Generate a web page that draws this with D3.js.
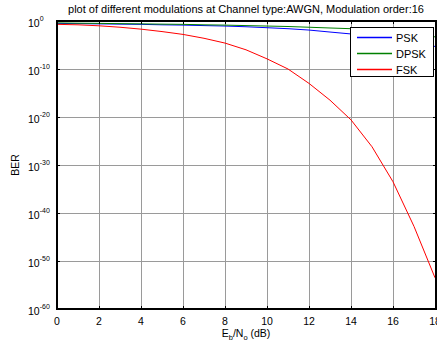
<!DOCTYPE html>
<html>
<head>
<meta charset="utf-8">
<script src="https://cdn.jsdelivr.net/npm/d3@7"></script>
<style>
  body { margin: 0; background: #fff; }
  svg { display: block; font-family: "Liberation Sans", Arial, sans-serif; }
</style>
</head>
<body>
<div id="chart"></div>
<script>
// Eb/No in dB
const ebno = [0, 1, 2, 3, 4, 5, 6, 7, 8, 9, 10, 11, 12, 13, 14, 15, 16, 17, 18];

// BER
const berPSK = [3.2e-1, 2.8e-1, 2.5e-1, 2.2e-1, 2.0e-1, 1.6e-1, 1.4e-1, 1.1e-1, 8.9e-2, 6.3e-2,
  4.0e-2, 2.5e-2, 1.3e-2, 5.0e-3, 2.0e-3, 6.3e-4, 1.6e-4, 3.2e-5, 5.0e-6];
const berDPSK = [4.0e-1, 3.5e-1, 3.2e-1, 2.8e-1, 2.5e-1, 2.2e-1, 2.0e-1, 1.6e-1, 1.4e-1, 1.1e-1,
  8.9e-2, 7.1e-2, 5.0e-2, 3.5e-2, 2.5e-2, 1.3e-2, 5.0e-3, 1.8e-3, 5.0e-4];
const berFSK = [2.0e-1, 1.6e-1, 1.0e-1, 5.0e-2, 2.0e-2, 6.3e-3, 1.6e-3, 2.5e-4, 2.5e-5, 1.0e-6,
  1.3e-8, 1.0e-10, 1.0e-13, 3.2e-17, 2.5e-21, 6.3e-27, 3.2e-34, 1.6e-43, 3.2e-54];

const seriesNames = ['PSK', 'DPSK', 'FSK'];
const seriesColors = ['#0000ff', '#008000', '#ff0000'];
const seriesData = [berPSK, berDPSK, berFSK];

const xTicks = [0, 2, 4, 6, 8, 10, 12, 14, 16, 18];
const yExponents = [0, -10, -20, -30, -40, -50, -60];

const title = 'plot of different modulations at Channel type:AWGN, Modulation order:16';

const W = 437, H = 343;
const margin = { top: 21, right: 2, bottom: 34, left: 57 };

const svg = d3.select('#chart').append('svg')
  .attr('width', W)
  .attr('height', H);

const x = d3.scaleLinear().domain([0, 18]).range([margin.left, 435]);
const y = d3.scaleLog().domain([1e-60, 1]).range([309, margin.top]);

const x0 = x.range()[0], x1 = 436;
const y0 = y.range()[0], y1 = y.range()[1];

// grid
const grid = svg.append('g').attr('stroke', '#9a9a9a').attr('stroke-width', 1);
grid.selectAll('line.vx')
  .data(xTicks.slice(1))
  .enter()
  .append('line')
  .attr('x1', (d) => Math.round(x(d)) + 0.5)
  .attr('x2', (d) => Math.round(x(d)) + 0.5)
  .attr('y1', y1)
  .attr('y2', y0);
grid.selectAll('line.hy')
  .data(yExponents.slice(1, -1))
  .enter()
  .append('line')
  .attr('x1', x0)
  .attr('x2', x1)
  .attr('y1', (d) => Math.round(y(Math.pow(10, d))) + 0.5)
  .attr('y2', (d) => Math.round(y(Math.pow(10, d))) + 0.5);

// curves
const lineGen = d3.line()
  .x((d, i) => x(ebno[i]))
  .y((d) => y(d));

svg.append('clipPath').attr('id', 'clip')
  .append('rect')
  .attr('x', x0).attr('y', y1)
  .attr('width', x1 - x0).attr('height', y0 - y1);

svg.append('g')
  .attr('clip-path', 'url(#clip)')
  .selectAll('path')
  .data(seriesData)
  .enter()
  .append('path')
  .attr('fill', 'none')
  .style('stroke', (d, i) => seriesColors[i])
  .attr('stroke-width', 1)
  .attr('d', lineGen);

// box
const box = svg.append('g').attr('stroke', '#000').attr('stroke-width', 2);
box.append('line').attr('x1', x0).attr('x2', x1).attr('y1', y1).attr('y2', y1);
box.append('line').attr('x1', x0).attr('x2', x1).attr('y1', y0).attr('y2', y0);
box.append('line').attr('x1', x0).attr('x2', x0).attr('y1', y1 - 1).attr('y2', y0 + 1);
box.append('line').attr('x1', x1).attr('x2', x1).attr('y1', y1 - 1).attr('y2', y0 + 1);

// tick marks (inward)
const ticks = svg.append('g').attr('stroke', '#000').attr('stroke-width', 1);
xTicks.forEach((t) => {
  const px = Math.round(x(t)) + 0.5;
  ticks.append('line').attr('x1', px).attr('x2', px).attr('y1', y0).attr('y2', y0 - 3);
  ticks.append('line').attr('x1', px).attr('x2', px).attr('y1', y1).attr('y2', y1 + 3);
});
yExponents.forEach((e) => {
  const py = Math.round(y(Math.pow(10, e))) + 0.5;
  ticks.append('line').attr('x1', x0).attr('x2', x0 + 3).attr('y1', py).attr('y2', py);
  ticks.append('line').attr('x1', x1).attr('x2', x1 - 3).attr('y1', py).attr('y2', py);
});

// x tick labels
svg.append('g')
  .selectAll('text')
  .data(xTicks)
  .enter()
  .append('text')
  .attr('x', (d) => x(d))
  .attr('y', 325)
  .attr('text-anchor', 'middle')
  .attr('font-size', 10.5)
  .text((d) => d);

// y tick labels: 10^e
const yl = svg.append('g')
  .selectAll('text')
  .data(yExponents)
  .enter()
  .append('text')
  .attr('x', 28)
  .attr('y', (d) => y(Math.pow(10, d)) + 6)
  .attr('font-size', 10.5);
yl.append('tspan').text('10');
yl.append('tspan')
  .attr('dy', -6)
  .attr('font-size', 7)
  .text((d) => d);

// axis labels
const xl = svg.append('text')
  .attr('x', (x0 + 435) / 2)
  .attr('y', 337)
  .attr('text-anchor', 'middle')
  .attr('font-size', 10.5);
xl.append('tspan').text('E');
xl.append('tspan').attr('dy', 3).attr('font-size', 7.5).text('b');
xl.append('tspan').attr('dy', -3).text('/N');
xl.append('tspan').attr('dy', 3).attr('font-size', 7.5).text('o');
xl.append('tspan').attr('dy', -3).text(' (dB)');

svg.append('text')
  .attr('transform', 'translate(19,' + ((y0 + y1) / 2) + ') rotate(-90)')
  .attr('text-anchor', 'middle')
  .attr('font-size', 10.5)
  .text('BER');

svg.append('text')
  .attr('x', (x0 + 435) / 2)
  .attr('y', 13)
  .attr('text-anchor', 'middle')
  .attr('font-size', 11)
  .text(title);

// legend
const lgX = 350, lgY = 27;
svg.append('rect')
  .attr('x', lgX + 0.5)
  .attr('y', lgY + 0.5)
  .attr('width', 83)
  .attr('height', 49)
  .attr('fill', '#fff')
  .attr('stroke', '#000')
  .attr('stroke-width', 1);
svg.append('g')
  .selectAll('path')
  .data(seriesNames)
  .enter()
  .append('path')
  .attr('d', (d, i) => 'M' + (lgX + 7) + ',' + (lgY + 10.5 + i * 16) + 'H' + (lgX + 42))
  .attr('fill', 'none')
  .attr('stroke', (d, i) => seriesColors[i])
  .attr('stroke-width', 1.3);
svg.append('g')
  .selectAll('text')
  .data(seriesNames)
  .enter()
  .append('text')
  .attr('x', lgX + 46)
  .attr('y', (d, i) => lgY + 14.5 + i * 16)
  .attr('font-size', 11)
  .text((d) => d);
</script>
</body>
</html>
